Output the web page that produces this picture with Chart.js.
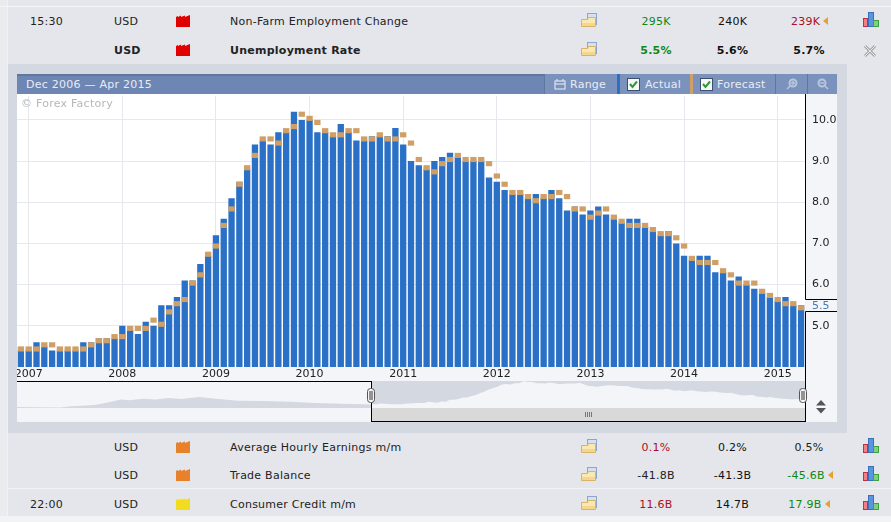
<!DOCTYPE html>
<html>
<head>
<meta charset="utf-8">
<title>Unemployment Rate</title>
<script src="https://cdn.jsdelivr.net/npm/chart.js@4"></script>
<style>
html, body { margin: 0; padding: 0; background: #e4e6eb; }
body { width: 891px; height: 522px; position: relative; overflow: hidden; font: 11px "DejaVu Sans", sans-serif; color: #222; }
.b { position: absolute; }
.t { position: absolute; white-space: nowrap; line-height: 14px; height: 14px; letter-spacing: .25px; }
canvas { position: absolute; display: block; }
</style>
</head>
<body>
<div id="page"></div>
<canvas id="mainChart" width="820" height="285" style="left:17px;top:96px"></canvas>
<canvas id="navChart" width="788" height="27" style="left:17px;top:381px"></canvas>
<div id="over"></div>
<script>
// ---- dados ----
const months = [
'2006-12',
'2007-01','2007-02','2007-03','2007-04','2007-05','2007-06','2007-07','2007-08','2007-09','2007-10','2007-11','2007-12',
'2008-01','2008-02','2008-03','2008-04','2008-05','2008-06','2008-07','2008-08','2008-09','2008-10','2008-11','2008-12',
'2009-01','2009-02','2009-03','2009-04','2009-05','2009-06','2009-07','2009-08','2009-09','2009-10','2009-11','2009-12',
'2010-01','2010-02','2010-03','2010-04','2010-05','2010-06','2010-07','2010-08','2010-09','2010-10','2010-11','2010-12',
'2011-01','2011-02','2011-03','2011-04','2011-05','2011-06','2011-07','2011-08','2011-09','2011-10','2011-11','2011-12',
'2012-01','2012-02','2012-03','2012-04','2012-05','2012-06','2012-07','2012-08','2012-09','2012-10','2012-11','2012-12',
'2013-01','2013-02','2013-03','2013-04','2013-05','2013-06','2013-07','2013-08','2013-09','2013-10','2013-11','2013-12',
'2014-01','2014-02','2014-03','2014-04','2014-05','2014-06','2014-07','2014-08','2014-09','2014-10','2014-11','2014-12',
'2015-01','2015-02','2015-03','2015-04']

const actual = [
4.4,4.4,4.6,4.5,4.4,4.4,4.4,4.4,4.6,4.6,4.7,4.7,
4.7,5.0,4.9,4.8,5.1,5.0,5.5,5.5,5.7,6.1,6.1,6.5,
6.7,7.2,7.6,8.1,8.5,8.8,9.4,9.5,9.4,9.7,9.7,10.2,
10.0,10.0,9.7,9.7,9.6,9.9,9.7,9.5,9.5,9.6,9.6,9.6,
9.8,9.4,9.0,8.9,8.8,9.0,9.1,9.2,9.1,9.0,9.0,9.0,
8.6,8.5,8.3,8.2,8.2,8.1,8.2,8.1,8.3,8.1,7.8,7.9,
7.7,7.8,7.9,7.7,7.6,7.5,7.6,7.6,7.4,7.3,7.2,7.3,
7.0,6.7,6.6,6.7,6.7,6.3,6.3,6.1,6.2,6.0,5.9,5.8,
5.7,5.6,5.7,5.5,5.5]

const forecast = [
4.5,4.5,4.5,4.6,4.6,4.5,4.5,4.5,4.5,4.6,4.7,4.7,
4.8,4.8,5.0,5.0,5.0,5.2,5.1,5.4,5.6,5.7,6.1,6.3,
6.8,7.0,7.5,7.9,8.5,8.9,9.2,9.6,9.6,9.5,9.8,9.9,
10.2,10.1,10.0,9.8,9.7,9.7,9.8,9.8,9.6,9.6,9.7,9.6,
9.6,9.7,9.5,9.1,8.9,8.8,9.0,9.1,9.2,9.1,9.1,9.1,
9.0,8.7,8.5,8.3,8.3,8.2,8.1,8.2,8.2,8.3,8.2,7.9,
7.9,7.7,7.8,7.9,7.7,7.6,7.5,7.5,7.5,7.4,7.3,7.3,
7.2,7.0,6.7,6.6,6.6,6.6,6.4,6.3,6.1,6.1,6.1,5.9,
5.8,5.7,5.6,5.6,5.5]

// the part of the navigator left of the selected range
const historyMonths = [0,10,12,18,22,24,26,29,32,35,38,42,46,51,57,63,69,75,82]
const historyValues = [3.7,3.6,3.8,4.2,5.1,5.6,5.4,5.8,5.6,6.0,5.7,6.2,5.8,5.3,5.2,5.0,4.7,4.5,4.3]

const yTicks = [5,6,7,8,9,10]

const rows = [
  {y:21, time:'15:30', impact:'#e00000', title:'Non-Farm Employment Change', a:'295K', ac:'#118811', f:'240K', p:'239K', pc:'#aa1122', px:805.5, mx:822, icon:'bars'},
  {y:50, impact:'#e00000', title:'Unemployment Rate', bold:true, a:'5.5%', ac:'#118811', f:'5.6%', p:'5.7%', pc:'#111', px:809, icon:'close'},
  {y:447, impact:'#e8812c', title:'Average Hourly Earnings m/m', a:'0.1%', ac:'#aa1122', f:'0.2%', p:'0.5%', pc:'#222', px:809, icon:'bars'},
  {y:475, impact:'#e8812c', title:'Trade Balance', a:'-41.8B', ac:'#222', f:'-41.3B', p:'-45.6B', pc:'#118811', px:806, mx:827, icon:'bars'},
  {y:504, time:'22:00', impact:'#f2dc20', title:'Consumer Credit m/m', a:'11.6B', ac:'#aa1122', f:'14.7B', p:'17.9B', pc:'#118811', px:805, mx:824, icon:'bars'}
]

// ---- page around the chart ----
var h = ''
function box(x, y, w, hh, color, extra) {
    h += `<div class="b" style="left:${x}px;top:${y}px;width:${w}px;height:${hh}px;background:${color};${extra || ''}"></div>`
}
function txt(x, y, s, color, extra) {
    h += `<div class="t" style="left:${x}px;top:${y - 6}px;color:${color || '#222'};${extra || ''}">${s}</div>`
}
function ctext(cx, y, s, color, extra) {
    h += `<div class="t" style="left:${cx - 60}px;width:120px;text-align:center;top:${y - 6}px;color:${color || '#222'};${extra || ''}">${s}</div>`
}
function svg(x, y, w, hh, body) {
    h += `<svg class="b" style="left:${x}px;top:${y}px" width="${w}" height="${hh}" viewBox="0 0 ${w} ${hh}">${body}</svg>`
}
const folder = '<rect x="6.5" y=".5" width="9" height="11" fill="#d5e0f0" stroke="#8fa6c8"/><path d="M.5 6.5h6l1-2h7v9H.5z" fill="#fbe8b0" stroke="#d8b468"/><rect x="1" y="10" width="13" height="3" fill="#f4d68c"/>'
const barsIcon = '<rect x=".5" y="6.5" width="4" height="8" fill="#f08088" stroke="#c03040"/><rect x="5.5" y=".5" width="5" height="14" fill="#5a96e0" stroke="#3a70b8"/><rect x="10.5" y="8.5" width="5" height="6" fill="#80d080" stroke="#40a040"/>'
const closeIcon = '<path d="M2 2L12 12M12 2L2 12" stroke="#a8a8a8" stroke-width="3"/><path d="M2 2L12 12M12 2L2 12" stroke="#e8e8e8" stroke-width="1"/>'
const markIcon = '<path d="M6 0V8L1 4z" fill="#e8a030"/>'

box(0, 0, 7, 522, '#e9ebef')
box(7, 0, 1, 522, '#f1f2f5')
box(0, 6, 891, 1, '#f4f5f7')
box(8, 488, 883, 1, '#f2f3f6')
box(0, 516, 891, 6, '#f2f3f5')
rows.forEach(r => {
    const w = r.bold ? 'font-weight:bold;' : ''
    if (r.time) txt(30, r.y, r.time)
    txt(114, r.y, 'USD', '#222', w)
    svg(176, r.y - 6, 14, 12, `<path d="M0 12V2L2 1V2L5 .5V2L9 .5V2L14 0V12z" fill="${r.impact}"/>`)
    txt(230, r.y, r.title, '#222', w)
    svg(581, r.y - 8, 16, 14, folder)
    ctext(656, r.y, r.a, r.ac, w)
    ctext(732.5, r.y, r.f, '#111', w)
    ctext(r.px, r.y, r.p, r.pc, w)
    if (r.mx) svg(r.mx, r.y - 4, 7, 8, markIcon)
    if (r.icon == 'bars') svg(863, r.y - 9, 16, 15, barsIcon)
    else svg(863, r.y - 6, 14, 14, closeIcon)
})

// panel
box(8, 64, 839, 369, '#d3d8e1')
box(17, 74, 820, 348, '#f3f5f9')
box(17, 94, 788, 273, '#ffffff')
box(805, 94, 1, 2, '#000')
// header
box(17, 74, 527, 20, '#6e86b3')
box(17, 74, 527, 2, '#5f769f')
box(544, 74, 293, 20, '#7b92bd')
box(544, 74, 1, 20, '#5f769f')
box(775, 74, 1, 20, '#5f769f')
box(807, 74, 1, 20, '#5f769f')
box(617, 74, 3, 20, '#2970c6')
box(690, 74, 3, 20, '#cf9f66')
txt(26, 84, 'Dec 2006 — Apr 2015', '#e8ecf4')
txt(570, 84, 'Range', '#e8ecf4')
txt(645, 84, 'Actual', '#e8ecf4')
txt(717, 84, 'Forecast', '#e8ecf4')
svg(554, 78, 12, 12, '<rect x="1" y="3" width="10" height="8" fill="none" stroke="#eef1f7"/><path d="M1 6H11M3 1V3M9 1V3" stroke="#eef1f7"/>')
const check = '<rect x=".5" y=".5" width="12" height="12" fill="#f6f7f9" stroke="#3d4f70"/><path d="M3 6L5.5 9L10 3.5" stroke="#2f9a2f" stroke-width="2" fill="none"/>'
svg(627, 78, 13, 13, check)
svg(700, 78, 13, 13, check)
svg(786, 78, 12, 12, '<circle cx="7" cy="5" r="3.5" fill="none" stroke="#b8c6de" stroke-width="2"/><path d="M4 8L1 11M5 5H9M7 3V7" stroke="#b8c6de" stroke-width="1.5"/>')
svg(817, 78, 12, 12, '<circle cx="5" cy="5" r="3.5" fill="none" stroke="#b8c6de" stroke-width="2"/><path d="M8 8L11 11M3 5H7" stroke="#b8c6de" stroke-width="1.5"/>')
// navigator background
box(17, 381, 354, 41, '#f3f5f9')
box(371, 381, 434, 27, '#d3d8e1')
box(371, 407, 434, 14, '#d8d9d8')
document.getElementById('page').innerHTML = h

// ---- things on top of the charts ----
h = ''
txt(21, 103, '© Forex Factory', '#b5b7bb')
box(17, 381, 354, 1, '#000')
box(371, 381, 1, 41, '#000')
box(371, 421, 435, 1, '#000')
box(805, 381, 1, 41, '#000')
const handle = '<rect x=".5" y=".5" width="7" height="14" rx="3" fill="#f4f4f4" stroke="#555"/><path d="M3 3V12M5 3V12" stroke="#333"/>'
svg(367, 388, 8, 15, handle)
svg(799, 388, 8, 15, handle)
svg(585, 412, 8, 5, '<path d="M.5 0V5M2.5 0V5M4.5 0V5M6.5 0V5" stroke="#777"/>')
svg(816, 400, 10, 14, '<path d="M5 0L10 5.5H0z" fill="#555"/><path d="M0 8H10L5 13.5z" fill="#555"/>')
document.getElementById('over').innerHTML = h

// ---- main chart ----
const lastValueBox = {
    id: 'lastValueBox',
    afterDraw(chart) {
        const c = chart.ctx, y = chart.scales.y, a = chart.chartArea
        const v = actual[actual.length - 1]
        const py = y.getPixelForValue(v)
        const top = Math.round(py - 6.5) + .5, bot = Math.round(py + 6) + .5
        c.save()
        c.strokeStyle = '#000'
        c.lineWidth = 1
        c.beginPath()
        c.moveTo(a.right + .5, 0)
        c.lineTo(a.right + .5, top)
        c.lineTo(chart.width, top)
        c.moveTo(chart.width, bot)
        c.lineTo(a.right + .5, bot)
        c.lineTo(a.right + .5, chart.height)
        c.stroke()
        c.fillStyle = '#4a7ab0'
        c.font = '11px "DejaVu Sans"'
        c.textBaseline = 'middle'
        c.fillText(v.toFixed(1), a.right + 7, py + .5)
        c.restore()
    }
}

new Chart(document.getElementById('mainChart'), {
    type: 'bar',
    data: {
        labels: months,
        datasets: [{
            label: 'Forecast',
            data: forecast.map(f => [f - 0.125, f]),
            backgroundColor: '#cf9f66',
            order: 1
        }, {
            label: 'Actual',
            data: actual,
            backgroundColor: '#2970c6',
            order: 2
        }]
    },
    options: {
        responsive: false,
        animation: false,
        layout: { padding: 0 },
        datasets: { bar: { grouped: false, barPercentage: 0.81, categoryPercentage: 1 } },
        plugins: { legend: { display: false }, tooltip: { enabled: false } },
        scales: {
            x: {
                afterFit: s => { s.height = 14; s.paddingLeft = 0; s.paddingRight = 0 },
                afterBuildTicks: s => { s.ticks = s.ticks.filter(t => months[t.value].endsWith('-01')) },
                border: { display: false },
                grid: { offset: false, drawTicks: false, color: '#e6e8ed' },
                ticks: {
                    autoSkip: false,
                    maxRotation: 0,
                    padding: 1,
                    color: '#222',
                    font: { family: 'DejaVu Sans', size: 11 },
                    callback: function (v) { return months[v].slice(0, 4) }
                }
            },
            y: {
                position: 'right',
                min: 4,
                max: 10.58,
                afterFit: s => { s.width = 32; s.paddingTop = 0; s.paddingBottom = 0 },
                afterBuildTicks: s => { s.ticks = yTicks.map(v => ({ value: v })) },
                border: { display: false },
                grid: { drawTicks: false, color: '#e6e8ed' },
                ticks: {
                    padding: 7,
                    color: '#222',
                    font: { family: 'DejaVu Sans', size: 11 },
                    callback: v => v.toFixed(1)
                }
            }
        }
    },
    plugins: [lastValueBox]
})

// ---- navigator ----
new Chart(document.getElementById('navChart'), {
    type: 'line',
    data: {
        datasets: [{
            data: historyMonths.map((m, i) => ({ x: m, y: historyValues[i] })),
            backgroundColor: '#d3d8e1',
            fill: 'start'
        }, {
            data: actual.map((v, i) => ({ x: 82 + i, y: v })),
            backgroundColor: '#f3f5f9',
            fill: 'start'
        }]
    },
    options: {
        responsive: false,
        animation: false,
        layout: { padding: 0 },
        elements: { point: { radius: 0 }, line: { borderWidth: 0, tension: 0 } },
        plugins: { legend: { display: false }, tooltip: { enabled: false } },
        scales: {
            x: { type: 'linear', display: false, min: 0, max: 182 },
            y: { display: false, min: 3.45, max: 10.25 }
        }
    }
})
</script>
</body>
</html>
